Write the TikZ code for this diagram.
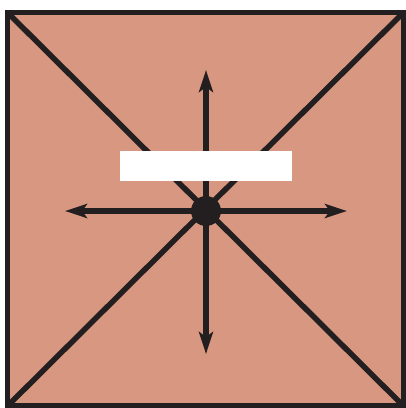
\documentclass[tikz,border=0pt]{standalone}
\usetikzlibrary{arrows.meta}
\definecolor{salmon}{HTML}{D89780}
\definecolor{ink}{HTML}{231F20}
\begin{document}
\begin{tikzpicture}[x=1pt,y=-1pt,
  edge/.style={draw=ink,line width=5.5pt},
  arr/.style={draw=ink,line width=5.5pt,-{Stealth[length=22pt,width=14pt,inset=5pt]}}]
\useasboundingbox (0,0) rectangle (406,408);
\coordinate (tl) at (7.5,12.5);
\coordinate (tr) at (403.5,12.5);
\coordinate (br) at (403.5,406);
\coordinate (bl) at (7.5,406);
\coordinate (c) at (206,211);
\fill[salmon] (tl) rectangle (br);
\draw[edge] (tl) -- (br);
\draw[edge] (tr) -- (bl);
\coordinate (up) at (206,70);
\coordinate (dn) at (206,354);
\coordinate (lf) at (65,211);
\coordinate (rt) at (347,211);
\draw[arr] (c) -- (up);
\draw[arr] (c) -- (dn);
\draw[arr] (c) -- (lf);
\draw[arr] (c) -- (rt);
\node[fill=white,minimum width=172pt,minimum height=30pt,inner sep=0pt] (box) at (206,166) {};
\fill[ink] (c) circle (15);
\draw[edge,line join=miter] (tl) rectangle (br);
\end{tikzpicture}
\end{document}
